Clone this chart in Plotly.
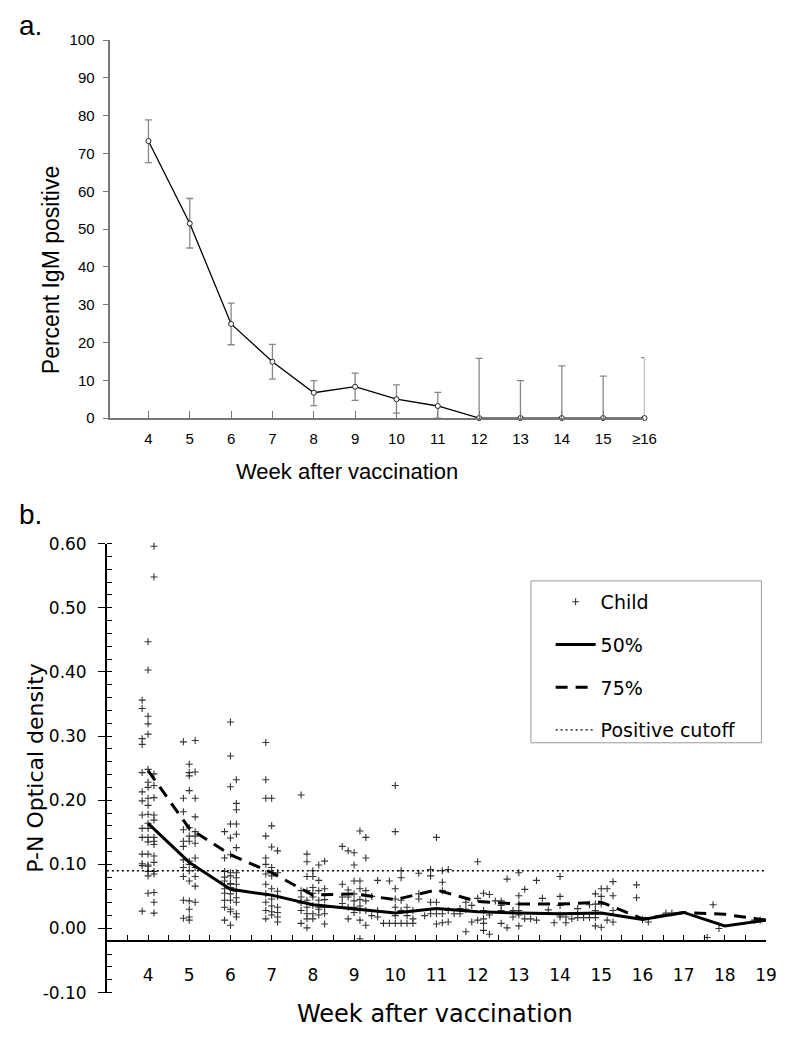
import plotly.graph_objects as go

# ---------------- Panel a data ----------------
weeks_a = [4, 5, 6, 7, 8, 9, 10, 11, 12, 13, 14, 15, 16]
week_labels_a = ['4', '5', '6', '7', '8', '9', '10', '11', '12', '13', '14', '15', '≥16']
pct_igm = [73.3, 51.5, 24.9, 14.9, 6.7, 8.3, 5.0, 3.2, 0, 0, 0, 0, 0]
ci_upper = [78.9, 58.1, 30.4, 19.5, 9.9, 11.9, 8.8, 6.8, 15.8, 9.9, 13.8, 11.1, 16.0]
ci_lower = [67.6, 45.0, 19.4, 10.3, 3.3, 4.7, 1.3, 0, 0, 0, 0, 0, 0]

# ---------------- Panel b data ----------------
# day after vaccination for each group of children, and their P-N OD values
child_day_groups = [27, 28, 29,
                    34, 35, 36,
                    41, 42, 43,
                    48, 49, 50,
                    54, 55, 56, 57, 58,
                    61, 62, 63, 64, 65, 66,
                    67, 68, 69, 70, 71, 72, 73,
                    74, 75, 76, 77, 78, 79, 80, 81, 82, 83,
                    84, 85, 86, 87, 88, 89, 90,
                    91, 92, 93, 94, 95, 96, 97,
                    98, 99, 100, 101, 102, 103, 104,
                    105, 106, 107, 111, 112, 113, 116, 117,
                    123, 124, 125, 131, 132]
child_od_groups = [
    [0.356, 0.343, 0.296, 0.287, 0.243, 0.213, 0.199, 0.177, 0.156, 0.142, 0.116, 0.101, 0.098, 0.027],
    [0.447, 0.403, 0.331, 0.319, 0.303, 0.248, 0.228, 0.220, 0.203, 0.192, 0.178, 0.164, 0.156, 0.142,
     0.135, 0.116, 0.099, 0.097, 0.089, 0.082, 0.055],
    [0.596, 0.548, 0.241, 0.223, 0.204, 0.177, 0.169, 0.142, 0.131, 0.136, 0.113, 0.103, 0.089, 0.085,
     0.056, 0.041, 0.024],
    [0.291, 0.203, 0.182, 0.154, 0.136, 0.128, 0.107, 0.095, 0.081, 0.044, 0.016],
    [0.256, 0.243, 0.238, 0.215, 0.157, 0.144, 0.136, 0.105, 0.100, 0.090, 0.074, 0.043, 0.030, 0.018, 0.013],
    [0.293, 0.244, 0.203, 0.174, 0.151, 0.144, 0.133, 0.110, 0.095, 0.081, 0.066, 0.041],
    [0.151, 0.110, 0.089, 0.080, 0.074, 0.062, 0.055, 0.044, 0.033, 0.013],
    [0.322, 0.269, 0.221, 0.163, 0.141, 0.115, 0.087, 0.082, 0.070, 0.069, 0.064, 0.054, 0.044, 0.030,
     0.026, 0.005],
    [0.232, 0.195, 0.185, 0.163, 0.147, 0.126, 0.087, 0.079, 0.069, 0.058, 0.048, 0.041, 0.023, 0.018],
    [0.290, 0.232, 0.203, 0.144, 0.110, 0.100, 0.085, 0.069, 0.054, 0.041, 0.028, 0.015],
    [0.203, 0.160, 0.127, 0.095, 0.082, 0.062, 0.046, 0.035, 0.026, 0.021],
    [0.121, 0.087, 0.058, 0.050, 0.033, 0.025, 0.018, 0.010],
    [0.208, 0.059, 0.049, 0.040, 0.028, 0.008],
    [0.116, 0.104, 0.081, 0.059, 0.044, 0.033, 0.023, 0.015, 0.001],
    [0.090, 0.081, 0.064, 0.055, 0.049, 0.036, 0.023, 0.015],
    [0.099, 0.075, 0.059, 0.044, 0.033, 0.030, 0.021],
    [0.105, 0.062, 0.045, 0.033, 0.023, 0.007],
    [0.128, 0.069, 0.049, 0.039],
    [0.121, 0.060, 0.049, 0.033, 0.015],
    [0.118, 0.099, 0.074, 0.054, 0.043, 0.033, 0.025],
    [0.152, 0.074, 0.062, 0.045, 0.035, 0.028, 0.013, -0.016],
    [0.142, 0.110, 0.059, 0.043, 0.028, 0.005],
    [0.050, 0.020],
    [0.075, 0.028, 0.018],
    [0.008],
    [0.074, 0.008],
    [0.223, 0.151, 0.062, 0.046, 0.033, 0.020, 0.008],
    [0.090, 0.079, 0.044, 0.028, 0.008],
    [0.033, 0.020, 0.008],
    [0.028, 0.015, 0.008],
    [0.086, 0.054, 0.046],
    [0.020],
    [0.092, 0.082, 0.041, 0.023],
    [0.142, 0.041, 0.023, 0.007],
    [0.090, 0.072, 0.059, 0.023, 0.009],
    [0.092, 0.028, 0.010],
    [0.023],
    [0.031, 0.023],
    [0.041, 0.030, -0.005],
    [0.036, 0.010],
    [0.104, 0.047, 0.013],
    [0.055, 0.028, 0.015, 0.008, -0.003],
    [0.053, 0.021, -0.009],
    [0.043],
    [0.043, 0.036, 0.028, 0.008],
    [0.077, 0.001],
    [0.028, 0.018],
    [0.087, 0.051, 0.038, 0.028, 0.021, 0.004],
    [0.061, 0.015],
    [0.015],
    [0.075, 0.013],
    [0.047],
    [0.029],
    [0.009],
    [0.081, 0.050, 0.036, 0.021, 0.018],
    [0.018, 0.009],
    [0.015],
    [0.031, 0.017],
    [0.017],
    [0.037, 0.017],
    [0.054, 0.038, 0.028, 0.017, 0.004],
    [0.062, 0.050, 0.038, 0.002],
    [0.062, 0.013],
    [0.073, 0.051, 0.028, 0.010],
    [0.068, 0.048],
    [0.014],
    [0.010],
    [0.024],
    [0.024],
    [-0.014],
    [0.037],
    [0.000],
    [0.013],
    [0.013],
]
weeks_b = [4, 5, 6, 7, 8, 9, 10, 11, 12, 13, 14, 15, 16, 17, 18, 19]
od_p50 = [0.164, 0.103, 0.061, 0.052, 0.037, 0.031, 0.024, 0.031, 0.026, 0.024, 0.023, 0.024, 0.014, 0.025, 0.004, 0.013]
od_p75 = [0.246, 0.156, 0.115, 0.087, 0.052, 0.054, 0.045, 0.060, 0.042, 0.038, 0.038, 0.041, 0.015, 0.025, 0.022, 0.013]
cutoff = 0.09
b_week_range = [3, 19]
b_tick_weeks = list(range(4, 20))
b_od_ticks = [-0.10, 0.00, 0.10, 0.20, 0.30, 0.40, 0.50, 0.60]

# flatten child data; x in weeks = day / 7
child_x, child_y = [], []
for d, vals in zip(child_day_groups, child_od_groups):
    for v in vals:
        child_x.append(d / 7)
        child_y.append(v)

W, H = 800, 1050
def px(x): return x / W
def py(y): return 1 - y / H

fig = go.Figure()

# ---- Panel a ----
fig.add_trace(go.Scatter(
    x=weeks_a, y=pct_igm, mode='lines+markers',
    line=dict(color='black', width=1.3),
    marker=dict(symbol='circle', size=5, color='white', line=dict(color='#222', width=1)),
    error_y=dict(type='data', symmetric=False,
                 array=[u - p for u, p in zip(ci_upper, pct_igm)],
                 arrayminus=[p - l for p, l in zip(pct_igm, ci_lower)],
                 color='#888', thickness=1.3, width=3.5),
    xaxis='x', yaxis='y', showlegend=False, cliponaxis=False, hoverinfo='skip'))

# ---- Panel b ----
fig.add_trace(go.Scatter(
    x=child_x, y=child_y, mode='markers', name='Child',
    marker=dict(symbol='cross-thin', size=5, color='#333', line=dict(color='#333', width=1.1)),
    xaxis='x2', yaxis='y2', legendgroup='g1', cliponaxis=False))
fig.add_trace(go.Scatter(
    x=weeks_b, y=od_p50, mode='lines', name='50%',
    line=dict(color='black', width=3),
    xaxis='x2', yaxis='y2', legendgroup='g2'))
fig.add_trace(go.Scatter(
    x=weeks_b, y=od_p75, mode='lines', name='75%',
    line=dict(color='black', width=3, dash='12px,8px'),
    xaxis='x2', yaxis='y2', legendgroup='g3'))
fig.add_trace(go.Scatter(
    x=b_week_range, y=[cutoff, cutoff], mode='lines', name='Positive cutoff',
    line=dict(color='black', width=1.4, dash='2px,3px'),
    xaxis='x2', yaxis='y2', legendgroup='g4'))

fa = 'Liberation Sans, Arial, sans-serif'
fb = 'DejaVu Sans, sans-serif'

ya_dom = [py(416), py(30.7)]
yb_dom = [py(1001.7), py(544)]
xb_axis_pos = py(949.4)

fig.update_layout(
    width=W, height=H,
    margin=dict(l=0, r=0, t=0, b=0),
    paper_bgcolor='white', plot_bgcolor='white',
    xaxis=dict(domain=[px(112), px(654.3)], range=[3.078, 16.0], anchor='y',
               tickmode='array', tickvals=weeks_a, ticktext=week_labels_a,
               ticks='inside', ticklen=7, tickcolor='#777', tickwidth=1.2,
               showline=True, linecolor='#777', linewidth=1.5,
               showgrid=False, zeroline=False, ticklabelstandoff=6,
               tickfont=dict(family=fa, size=15, color='black')),
    yaxis=dict(domain=ya_dom, range=[0, 100], anchor='x',
               tickmode='linear', tick0=0, dtick=10,
               ticks='outside', ticklen=6, tickcolor='#777', tickwidth=1.2,
               showline=True, linecolor='#777', linewidth=1.5,
               showgrid=False, zeroline=False, ticklabelstandoff=5,
               tickfont=dict(family=fa, size=15, color='black')),
    xaxis2=dict(domain=[px(108.5), px(777.7)], range=b_week_range, anchor='free',
                position=xb_axis_pos,
                tickmode='array', tickvals=b_tick_weeks,
                ticks='inside', ticklen=6, tickcolor='black', tickwidth=1.2,
                minor=dict(tickmode='linear', tick0=3.5, dtick=1, ticks='inside', ticklen=6,
                           tickcolor='black', tickwidth=1.2, showgrid=False),
                showline=True, linecolor='black', linewidth=1.6,
                showgrid=False, zeroline=False, ticklabelstandoff=18,
                tickfont=dict(family=fb, size=17, color='black')),
    yaxis2=dict(domain=yb_dom, range=[-0.10, 0.60], anchor='x2',
                tickmode='array', tickvals=b_od_ticks,
                ticktext=[f'{v:.2f}' for v in b_od_ticks],
                ticks='outside', ticklen=7, tickcolor='black', tickwidth=1.4,
                minor=dict(tickmode='linear', tick0=0, dtick=0.02, ticks='inside', ticklen=5,
                           tickcolor='black', tickwidth=1.1, showgrid=False),
                showline=True, linecolor='black', linewidth=1.6,
                showgrid=False, zeroline=False, ticklabelstandoff=8,
                tickfont=dict(family=fb, size=17, color='black')),
    legend=dict(x=px(559), y=py(584), xanchor='left', yanchor='top',
                bgcolor='rgba(0,0,0,0)', borderwidth=0,
                font=dict(family=fb, size=19, color='black'),
                tracegroupgap=15, traceorder='grouped', itemwidth=40),
    shapes=[dict(type='rect', xref='paper', yref='paper',
                 x0=px(539), x1=px(773), y0=py(747), y1=py(582),
                 line=dict(color='#999', width=1), fillcolor='rgba(0,0,0,0)')],
    annotations=[
        dict(text='a.', x=px(17), y=py(16), xref='paper', yref='paper', xanchor='left', yanchor='middle',
             showarrow=False, font=dict(family=fa, size=28, color='black')),
        dict(text='b.', x=px(17), y=py(514), xref='paper', yref='paper', xanchor='left', yanchor='middle',
             showarrow=False, font=dict(family=fa, size=28, color='black')),
        dict(text='Week after vaccination', x=px(352), y=py(470), xref='paper', yref='paper',
             xanchor='center', yanchor='middle', showarrow=False,
             font=dict(family=fa, size=22, color='black')),
        dict(text='Percent IgM positive', x=px(52), y=py(265), xref='paper', yref='paper',
             xanchor='center', yanchor='middle', showarrow=False, textangle=-90,
             font=dict(family=fa, size=23, color='black')),
        dict(text='Week after vaccination', x=px(442), y=py(1023), xref='paper', yref='paper',
             xanchor='center', yanchor='middle', showarrow=False,
             font=dict(family=fb, size=24, color='black')),
        dict(text='P-N Optical density', x=px(36), y=py(772), xref='paper', yref='paper',
             xanchor='center', yanchor='middle', showarrow=False, textangle=-90,
             font=dict(family=fb, size=22, color='black')),
    ],
)

fig.write_html('out.html', config={'displayModeBar': False},
               post_script=("document.documentElement.style.overflow='hidden';"
                            "document.body.style.margin='0';"
                            "document.body.style.overflow='hidden';"))
